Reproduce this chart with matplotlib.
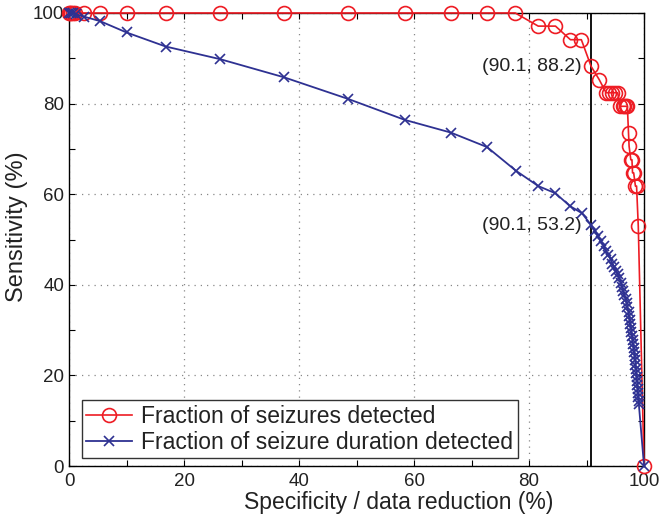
import matplotlib
matplotlib.use('Agg')
import matplotlib.pyplot as plt
from matplotlib.ticker import MultipleLocator

# fraction of seizures detected (red circles)
seiz_x = [0.0, 0.2, 0.4, 0.7, 1.0, 2.6, 5.4, 10.0, 16.8, 26.3, 37.4, 48.6, 58.4, 66.4,
          72.7, 77.6, 81.6, 84.6, 87.2, 89.1, 90.8, 92.2, 93.4, 93.9, 94.4, 94.9, 95.4,
          95.9, 96.3, 96.6, 96.9, 97.1, 97.3, 97.4, 97.7, 97.9, 98.0, 98.2, 98.5, 98.7,
          99.0, 100.0]
seiz_y = [100, 100, 100, 100, 100, 100, 100, 100, 100, 100, 100, 100, 100, 100,
          100, 100, 97.1, 97.1, 94.1, 94.1, 88.2, 85.3, 82.4, 82.4, 82.4, 82.4, 82.4,
          79.4, 79.4, 79.4, 79.4, 79.4, 73.5, 70.6, 67.6, 67.6, 64.7, 64.7, 61.8, 61.8,
          52.9, 0]

# fraction of seizure duration detected (blue crosses)
dur_x = [0.0, 0.3, 0.7, 1.2, 2.6, 5.4, 10.0, 16.8, 26.3, 37.4, 48.6, 58.4, 66.4,
         72.7, 77.7, 81.6, 84.6, 87.1, 89.2, 90.8, 91.5, 92.0, 92.5, 93.0, 93.4, 93.8,
         94.2, 94.5, 94.8, 95.1, 95.4, 95.7, 96.0, 96.2, 96.4, 96.6, 96.8, 97.0, 97.1,
         97.3, 97.4, 97.5, 97.6, 97.7, 97.8, 97.9, 98.0, 98.1, 98.2, 98.3, 98.4, 98.45,
         98.5, 98.6, 98.65, 98.7, 98.8, 98.85, 98.9, 98.95, 99.0, 99.05, 99.1, 100.0]
dur_y = [100, 100, 99.9, 99.7, 99.2, 98.2, 95.7, 92.6, 89.8, 85.8, 81.0, 76.4, 73.6,
         70.4, 65.2, 61.8, 60.2, 57.4, 55.8, 53.2, 51.9, 50.7, 49.6, 48.5, 47.5, 46.6,
         45.6, 44.7, 43.9, 43.1, 42.3, 41.5, 40.4, 39.5, 38.6, 37.7, 36.8, 35.9, 35.0,
         34.1, 33.2, 32.3, 31.4, 30.5, 29.6, 28.7, 27.8, 26.9, 26.0, 25.1, 24.2, 23.3,
         22.4, 21.5, 20.6, 19.7, 18.8, 17.9, 17.0, 16.1, 15.2, 14.3, 13.6, 0]

op_x = 90.8   # operating point (vertical line)
labels = ['(90.1, 88.2)', '(90.1, 53.2)']
label_y = [88.2, 53.2]

plt.rcParams['font.family'] = ['Liberation Sans', 'DejaVu Sans']

red = '#ee1c24'
blue = '#2e3192'
txt = '#222222'

fig = plt.figure(figsize=(6.63, 5.17), dpi=100)
ax = fig.add_axes([0.1041, 0.0986, 0.8673, 0.8763])

ax.plot(seiz_x, seiz_y, '-o', color=red, mfc='none', mec=red, ms=10, mew=1.2, lw=1.2,
        label='Fraction of seizures detected', zorder=3, clip_on=False)
ax.plot(dur_x, dur_y, '-x', color=blue, ms=6.5, mew=1.2, lw=1.3,
        label='Fraction of seizure duration detected', zorder=4, clip_on=False)
ax.axvline(op_x, color='k', lw=1.3, zorder=2)

for s, yy in zip(labels, label_y):
    ax.text(op_x - 1.6, yy, s, ha='right', va='center', fontsize=14, color=txt)

ax.set_xlim(0, 100)
ax.set_ylim(0, 100)
ax.xaxis.set_major_locator(MultipleLocator(20))
ax.yaxis.set_major_locator(MultipleLocator(20))
ax.xaxis.set_minor_locator(MultipleLocator(10))
ax.yaxis.set_minor_locator(MultipleLocator(10))
ax.tick_params(which='both', direction='in', top=True, right=True, length=4,
               width=0.8, labelsize=13.5, labelcolor=txt)
ax.tick_params(axis='x', pad=5)
ax.grid(True, which='major', ls=(0, (1, 4)), color='#888888', lw=0.9)
ax.set_axisbelow(True)
for sp in ax.spines.values():
    sp.set_linewidth(1.0)

ax.set_xlabel('Specificity / data reduction (%)', fontsize=16.5, color=txt)
ax.xaxis.set_label_coords(0.574, -0.055, transform=ax.transAxes)
ax.xaxis.label.set_va('top')
ax.set_ylabel('Sensitivity (%)', fontsize=17, color=txt)
ax.yaxis.set_label_coords(-0.071, 0.529, transform=ax.transAxes)

leg = ax.legend(loc='lower left', bbox_to_anchor=(0.022, 0.017), fontsize=16.5,
                handlelength=2.0, handletextpad=0.4, borderpad=0.2,
                labelspacing=0.12, fancybox=False, framealpha=1, borderaxespad=0)
leg.get_frame().set_edgecolor('#333333')
leg.get_frame().set_linewidth(1.0)
for t in leg.get_texts():
    t.set_color(txt)

fig.savefig('out.png', dpi=100)
